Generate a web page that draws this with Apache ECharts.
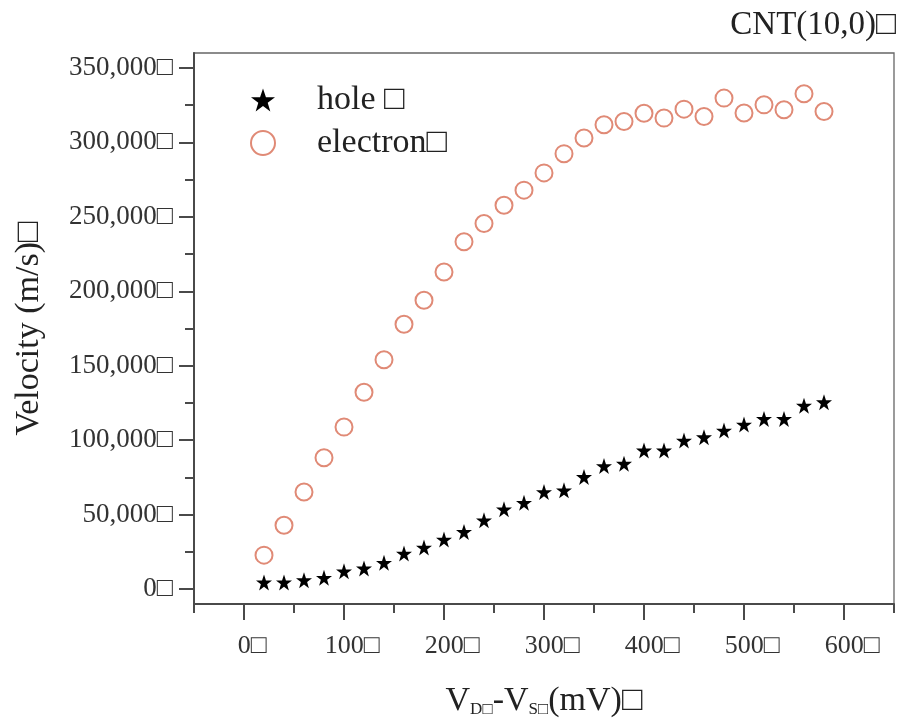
<!DOCTYPE html>
<html>
<head>
<meta charset="utf-8">
<script src="https://cdn.jsdelivr.net/npm/echarts@6/dist/echarts.min.js"></script>
<style>html,body{margin:0;padding:0;background:#fff}#c{width:903px;height:728px}</style>
</head>
<body>
<div id="c"></div>
<script>
const vds = [20,40,60,80,100,120,140,160,180,200,220,240,260,280,300,320,340,360,380,400,420,440,460,480,500,520,540,560,580];
const holeVel = [4500,4500,6000,7600,12000,13900,17700,23900,27900,33300,38400,46200,53600,58000,65200,66300,75300,82600,84200,93100,93100,99800,102000,106500,110500,114300,114300,123200,125500];
const electronVel = [22800,42900,65200,88200,108800,132200,154000,177900,194000,212900,233300,245500,257800,267900,279500,292400,302900,311800,314000,319500,316300,322300,317400,329700,319700,325200,321900,332600,320700];
const xMajorTicks = [0,100,200,300,400,500,600];
const xMinorTicks = [-50,50,150,250,350,450,550,650];
const yMajorTicks = [0,50000,100000,150000,200000,250000,300000,350000];
const yMinorTicks = [25000,75000,125000,175000,225000,275000,325000];

const FONT = '"Liberation Serif","Times New Roman",serif';
const BOX = '\u25A1';
const starPath = 'path://M50,0 L61.8,35.1 L98.1,35.1 L68.8,56.7 L79.4,91.3 L50,70 L20.6,91.3 L31.2,56.7 L1.9,35.1 L38.2,35.1 Z';
const fmtNum = v => v.toLocaleString('en-US') + BOX;
const AX = '#4a4a4a';

const chart = echarts.init(document.getElementById('c'), null, {renderer:'canvas'});
chart.setOption({
  animation: false,
  backgroundColor: '#fff',
  title: {
    text: 'CNT(10,0)' + BOX,
    right: 2, top: 4,
    textStyle: {fontFamily: FONT, fontSize: 33, fontWeight: 'normal', color: '#222'}
  },
  legend: {
    orient: 'vertical',
    left: 245, top: 78,
    itemWidth: 24, itemHeight: 24, itemGap: 9,
    textStyle: {fontFamily: FONT, fontSize: 34, lineHeight: 34, color: '#222', padding: [0,0,0,37]},
    data: [
      {name: 'hole ' + BOX},
      {name: 'electron' + BOX}
    ]
  },
  grid: {left: 194, right: 9, top: 53, bottom: 124, show: true, borderColor: '#666', borderWidth: 1.3, containLabel: false},
  xAxis: [
    {
      type: 'value', min: -50, max: 650, position: 'bottom',
      axisLine: {show: true, onZero: false, lineStyle: {color: AX, width: 2}},
      axisTick: {show: true, inside: false, length: 16, customValues: xMajorTicks, lineStyle: {color: AX, width: 2}},
      axisLabel: {show: true, customValues: xMajorTicks, formatter: fmtNum, margin: 29, fontFamily: FONT, fontSize: 26, color: '#333', padding: [0,0,0,16]},
      splitLine: {show: false},
      name: '{m|V}{sub|D' + BOX + '}{m|-V}{sub|S' + BOX + '}{m|(mV)' + BOX + '}',
      nameLocation: 'middle', nameGap: 80,
      nameTextStyle: {fontFamily: FONT, fontSize: 34, color: '#222',
        rich: {
          m: {fontFamily: FONT, fontSize: 34, lineHeight: 34, color: '#222', verticalAlign: 'top'},
          sub: {fontFamily: FONT, fontSize: 17, lineHeight: 17, color: '#222', verticalAlign: 'bottom', padding: [26,0,0,0]}
        }}
    },
    {
      type: 'value', min: -50, max: 650, position: 'bottom',
      axisLine: {show: false, onZero: false},
      axisTick: {show: true, length: 9, customValues: xMinorTicks, lineStyle: {color: AX, width: 2}},
      axisLabel: {show: false},
      splitLine: {show: false}
    }
  ],
  yAxis: [
    {
      type: 'value', min: -10000, max: 360000, position: 'left',
      axisLine: {show: true, onZero: false, lineStyle: {color: AX, width: 2}},
      axisTick: {show: true, length: 15, customValues: yMajorTicks, lineStyle: {color: AX, width: 2}},
      axisLabel: {show: true, customValues: yMajorTicks, formatter: fmtNum, margin: 21, fontFamily: FONT, fontSize: 27, color: '#333'},
      splitLine: {show: false},
      name: 'Velocity (m/s)' + BOX,
      nameLocation: 'middle', nameGap: 148,
      nameTextStyle: {fontFamily: FONT, fontSize: 34, color: '#222'}
    },
    {
      type: 'value', min: -10000, max: 360000, position: 'left',
      axisLine: {show: false, onZero: false},
      axisTick: {show: true, length: 9, customValues: yMinorTicks, lineStyle: {color: AX, width: 2}},
      axisLabel: {show: false},
      splitLine: {show: false}
    }
  ],
  series: [
    {
      name: 'hole ' + BOX, type: 'scatter', xAxisIndex: 0, yAxisIndex: 0,
      symbol: starPath, symbolSize: 16,
      itemStyle: {color: '#000', opacity: 1},
      data: vds.map((v,i) => [v, holeVel[i]])
    },
    {
      name: 'electron' + BOX, type: 'scatter', xAxisIndex: 0, yAxisIndex: 0,
      symbol: 'emptyCircle', symbolSize: 17,
      itemStyle: {color: '#e08a76', borderColor: '#e08a76', borderWidth: 1.2, opacity: 1},
      data: vds.map((v,i) => [v, electronVel[i]])
    }
  ]
});
</script>
</body>
</html>
